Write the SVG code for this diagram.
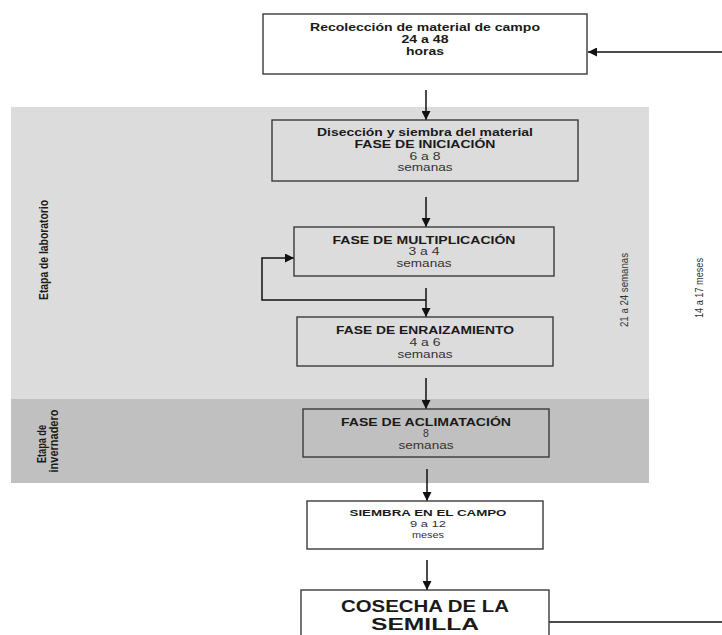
<svg xmlns="http://www.w3.org/2000/svg" width="722" height="635" viewBox="0 0 722 635">
<style>
text{font-family:"Liberation Sans",Arial,sans-serif;fill:#1a1a1a;text-anchor:middle}
.b{font-weight:bold;font-size:11px}
.r{font-size:10.5px;fill:#333}
.box{stroke:#3a3a3a;stroke-width:1.4}
.w{fill:#fff}
.t{fill:none}
.c{stroke:#111;stroke-width:1.5;fill:none}
.side{font-weight:bold;font-size:12px}
.dur{font-size:11px;fill:#333}
</style>
<defs>
<marker id="ah" viewBox="0 0 10 10" refX="10" refY="5" markerWidth="9" markerHeight="9" markerUnits="userSpaceOnUse" orient="auto">
<path d="M0,0 L10,5 L0,10 z" fill="#111"/>
</marker>
</defs>
<rect width="722" height="635" fill="#fff"/>
<g id="etapa-laboratorio">
<rect x="11" y="107" width="638" height="292" fill="#dcdcdc"/>
<text class="side" transform="translate(48,250) rotate(-90)" textLength="100" lengthAdjust="spacingAndGlyphs">Etapa de laboratorio</text>
</g>
<g id="etapa-invernadero">
<rect x="11" y="399" width="638" height="84" fill="#c0c0c0"/>
<text class="side" transform="translate(46,444) rotate(-90)" textLength="38" lengthAdjust="spacingAndGlyphs">Etapa de</text>
<text class="side" transform="translate(58,441) rotate(-90)" textLength="63" lengthAdjust="spacingAndGlyphs">invernadero</text>
</g>
<g id="duracion-lab">
<text class="dur" transform="translate(628,290) rotate(-90)" textLength="74" lengthAdjust="spacingAndGlyphs">21 a 24 semanas</text>
</g>
<g id="duracion-total">
<text class="dur" transform="translate(703,288) rotate(-90)" textLength="60" lengthAdjust="spacingAndGlyphs">14 a 17 meses</text>
</g>
<g id="connectors">
<line class="c" x1="722" y1="52" x2="588" y2="52" marker-end="url(#ah)"/>
<line class="c" x1="426" y1="90" x2="426" y2="120" marker-end="url(#ah)"/>
<line class="c" x1="426" y1="197" x2="426" y2="227" marker-end="url(#ah)"/>
<line class="c" x1="426" y1="288" x2="426" y2="317" marker-end="url(#ah)"/>
<polyline class="c" points="426,300 262,300 262,258 294,258" marker-end="url(#ah)"/>
<line class="c" x1="426" y1="378" x2="426" y2="409" marker-end="url(#ah)"/>
<line class="c" x1="427" y1="469" x2="427" y2="501" marker-end="url(#ah)"/>
<line class="c" x1="427" y1="560" x2="427" y2="590" marker-end="url(#ah)"/>
<line class="c" x1="549" y1="622" x2="722" y2="622"/>
</g>
<g id="recoleccion">
<rect class="box w" x="263" y="14" width="324" height="60"/>
<text class="b" x="425" y="31" textLength="230" lengthAdjust="spacingAndGlyphs">Recolección de material de campo</text>
<text class="b" x="425" y="43" textLength="47" lengthAdjust="spacingAndGlyphs">24 a 48</text>
<text class="b" x="425" y="55" textLength="38" lengthAdjust="spacingAndGlyphs">horas</text>
</g>
<g id="iniciacion">
<rect class="box t" x="272" y="120" width="306" height="61"/>
<text class="b" x="425" y="136" textLength="216" lengthAdjust="spacingAndGlyphs">Disección y siembra del material</text>
<text class="b" x="425" y="148" textLength="141" lengthAdjust="spacingAndGlyphs">FASE DE INICIACIÓN</text>
<text class="r" x="425" y="160" textLength="31" lengthAdjust="spacingAndGlyphs">6 a 8</text>
<text class="r" x="425" y="171" textLength="55" lengthAdjust="spacingAndGlyphs">semanas</text>
</g>
<g id="multiplicacion">
<rect class="box t" x="294" y="227" width="260" height="49"/>
<text class="b" x="424" y="244" textLength="183" lengthAdjust="spacingAndGlyphs">FASE DE MULTIPLICACIÓN</text>
<text class="r" x="424" y="255" textLength="31" lengthAdjust="spacingAndGlyphs">3 a 4</text>
<text class="r" x="424" y="267" textLength="55" lengthAdjust="spacingAndGlyphs">semanas</text>
</g>
<g id="enraizamiento">
<rect class="box t" x="297" y="317" width="256" height="49"/>
<text class="b" x="425" y="334" textLength="178" lengthAdjust="spacingAndGlyphs">FASE DE ENRAIZAMIENTO</text>
<text class="r" x="425" y="346" textLength="31" lengthAdjust="spacingAndGlyphs">4 a 6</text>
<text class="r" x="425" y="358" textLength="55" lengthAdjust="spacingAndGlyphs">semanas</text>
</g>
<g id="aclimatacion">
<rect class="box t" x="303" y="409" width="246" height="48"/>
<text class="b" x="426" y="426" textLength="170" lengthAdjust="spacingAndGlyphs">FASE DE ACLIMATACIÓN</text>
<text class="r" x="426" y="437">8</text>
<text class="r" x="426" y="449" textLength="55" lengthAdjust="spacingAndGlyphs">semanas</text>
</g>
<g id="siembra-campo">
<rect class="box w" x="307" y="501" width="236" height="48"/>
<text class="b" x="428" y="516" style="font-size:9.5px" textLength="157" lengthAdjust="spacingAndGlyphs">SIEMBRA EN EL CAMPO</text>
<text class="r" x="428" y="527" style="font-size:9px" textLength="36" lengthAdjust="spacingAndGlyphs">9 a 12</text>
<text class="r" x="428" y="538" style="font-size:9px" textLength="32" lengthAdjust="spacingAndGlyphs">meses</text>
</g>
<g id="cosecha">
<rect class="box w" x="301" y="590" width="248" height="50"/>
<text class="b" x="425" y="612" style="font-size:16px" textLength="168" lengthAdjust="spacingAndGlyphs">COSECHA DE LA</text>
<text class="b" x="425" y="630" style="font-size:16px" textLength="108" lengthAdjust="spacingAndGlyphs">SEMILLA</text>
</g>
</svg>
